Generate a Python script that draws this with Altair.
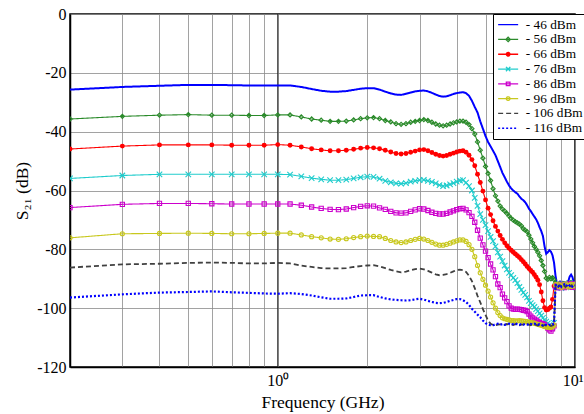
import altair as alt
import pandas as pd

freq = [0.2, 0.3, 0.4, 0.5, 0.6, 0.7, 0.8, 0.9, 1.0,
        1.1, 1.2, 1.3, 1.4, 1.5, 1.6, 1.7, 1.8, 1.9, 2.0,
        2.1, 2.2, 2.3, 2.4, 2.5, 2.6, 2.7, 2.8, 2.9, 3.0,
        3.1, 3.2, 3.3, 3.4, 3.5, 3.6, 3.7, 3.8, 3.9, 4.0,
        4.1, 4.2, 4.3, 4.4, 4.5, 4.6, 4.7, 4.8, 4.9, 5.0,
        5.1, 5.2, 5.3, 5.4, 5.5, 5.6, 5.7, 5.8, 5.9, 6.0,
        6.1, 6.2, 6.3, 6.4, 6.5, 6.6, 6.7, 6.8, 6.9, 7.0,
        7.1, 7.2, 7.3, 7.4, 7.5, 7.6, 7.7, 7.8, 7.9, 8.0,
        8.1, 8.2, 8.3, 8.4, 8.5, 8.6, 8.7, 8.8, 8.9, 9.0,
        9.1, 9.2, 9.3, 9.4, 9.5, 9.6, 9.7, 9.8, 9.9, 10.0]

s46 = [-25.7, -24.8, -24.4, -24.1, -24.1, -24.2, -24.3, -24.3, -24.3,
       -24.3, -24.8, -25.5, -26.1, -26.4, -26.4, -26.2, -25.8, -25.4, -25.2,
       -25.2, -25.7, -26.4, -27.0, -27.4, -27.5, -27.1, -26.7, -26.3, -26.1,
       -26.0, -26.3, -26.8, -27.4, -27.9, -28.1, -28.0, -27.6, -27.2, -26.9,
       -26.7, -26.6, -26.9, -27.8, -29.5, -31.6, -33.5, -36.5, -39.0, -41.5,
       -43.5, -45.0, -46.5, -48.0, -50.0, -52.0, -54.0, -55.5, -57.0, -58.3,
       -59.3, -60.0, -60.6, -61.1, -62.0, -62.8, -63.3, -64.0, -65.0, -66.2,
       -67.0, -68.0, -68.9, -69.8, -71.0, -72.5, -73.8, -75.5, -79.0, -81.5,
       -81.0, -80.3, -80.8, -82.0, -84.5, -89.0, -92.0, -91.5, -91.0, -91.8,
       -91.5, -91.2, -91.5, -91.0, -90.8, -89.2, -88.6, -89.4, -91.0, -91.5]

s56 = [-35.7, -34.8, -34.4, -34.2, -34.4, -34.4, -34.5, -34.5, -34.3,
       -34.3, -35.0, -35.7, -36.1, -36.5, -36.5, -36.4, -36.0, -35.6, -35.3,
       -35.2, -35.6, -36.2, -36.7, -37.3, -37.5, -37.3, -36.8, -36.5, -36.2,
       -35.9, -36.2, -36.8, -37.4, -37.8, -38.0, -37.8, -37.4, -37.0, -36.7,
       -36.4, -36.4, -36.8, -37.6, -39.0, -40.8, -43.5, -46.3, -49.0, -51.8,
       -54.2, -56.6, -59.4, -61.8, -63.6, -65.3, -66.3, -67.0, -67.8, -68.7,
       -69.5, -70.1, -70.6, -71.0, -71.4, -72.0, -73.0, -73.5, -74.0, -75.2,
       -76.5, -77.8, -79.0, -80.0, -81.0, -82.2, -83.8, -85.5, -87.5, -89.8,
       -90.2, -89.5, -90.0, -89.6, -90.3, -91.5, -92.3, -91.8, -92.6, -92.0,
       -91.6, -92.4, -92.0, -91.5, -92.2, -91.8, -91.2, -91.9, -92.3, -91.7]

s66 = [-45.9, -44.9, -44.5, -44.5, -44.5, -44.6, -44.6, -44.6, -44.4,
       -44.6, -45.2, -45.8, -46.2, -46.5, -46.5, -46.3, -46.0, -45.6, -45.4,
       -45.5, -45.8, -46.3, -46.9, -47.4, -47.6, -47.4, -47.0, -46.6, -46.2,
       -46.1, -46.5, -47.1, -47.7, -48.1, -48.3, -48.1, -47.7, -47.3, -46.9,
       -46.6, -46.5, -47.0, -48.0, -49.5, -51.6, -54.5, -57.3, -60.2, -63.2,
       -66.0, -68.2, -70.3, -72.2, -73.8, -75.3, -76.6, -77.8, -78.8, -79.6,
       -80.3, -81.0, -81.6, -82.2, -82.8, -83.5, -84.2, -85.0, -85.8, -86.5,
       -87.2, -87.8, -88.6, -89.5, -90.5, -92.0, -94.5, -97.5, -99.8, -100.6,
       -100.5, -100.0, -99.6, -97.0, -92.5, -92.0, -92.8, -92.2, -93.0, -92.5,
       -92.0, -92.8, -92.4, -91.9, -92.6, -92.1, -91.6, -92.3, -92.7, -92.0]

s76 = [-55.9, -54.9, -54.5, -54.5, -54.5, -54.5, -54.5, -54.5, -54.5,
       -54.6, -55.2, -55.8, -56.2, -56.5, -56.5, -56.3, -55.9, -55.5, -55.3,
       -55.4, -56.0, -56.7, -57.2, -57.6, -57.7, -57.5, -57.0, -56.7, -56.5,
       -56.4, -56.7, -57.1, -57.6, -58.2, -58.5, -58.3, -57.9, -57.5, -57.0,
       -56.6, -56.5, -57.3, -58.5, -60.0, -62.5, -65.2, -68.0, -70.0, -71.8,
       -73.8, -75.8, -77.2, -79.0, -81.0, -82.5, -84.0, -85.5, -86.8, -88.0,
       -88.8, -89.7, -90.5, -91.5, -92.8, -93.8, -94.7, -95.5, -96.3, -97.5,
       -98.3, -99.0, -99.6, -100.3, -101.0, -101.8, -102.5, -103.3, -104.0, -104.6,
       -105.2, -105.8, -106.2, -106.4, -105.0, -92.4, -93.0, -92.0, -92.7, -93.2,
       -92.3, -91.8, -92.6, -92.2, -91.9, -92.5, -92.9, -92.1, -91.6, -92.4]

s86 = [-65.8, -64.7, -64.4, -64.4, -64.5, -64.6, -64.6, -64.6, -64.6,
       -64.6, -65.0, -65.6, -66.1, -66.4, -66.5, -66.3, -65.8, -65.4, -65.2,
       -65.3, -65.9, -66.4, -67.1, -67.6, -67.7, -67.6, -67.1, -66.6, -66.2,
       -66.3, -66.8, -67.4, -67.8, -68.0, -68.0, -67.8, -67.3, -66.9, -66.5,
       -66.2, -66.1, -66.6, -67.5, -68.8, -70.8, -73.5, -76.2, -78.5, -80.6,
       -82.8, -85.0, -87.0, -89.3, -91.8, -93.0, -95.2, -96.5, -97.8, -99.2,
       -100.0, -100.3, -100.4, -100.3, -100.4, -100.5, -100.7, -100.8, -101.2, -102.0,
       -102.7, -103.3, -103.7, -104.1, -104.5, -104.9, -105.2, -105.3, -105.6, -106.2,
       -106.8, -107.4, -107.8, -107.0, -106.0, -92.8, -92.2, -93.1, -92.5, -91.9,
       -92.6, -93.0, -92.2, -92.7, -92.3, -91.8, -92.5, -92.9, -92.2, -91.8]

s96 = [-76.1, -74.7, -74.6, -74.5, -74.6, -74.7, -74.7, -74.6, -74.5,
       -74.5, -75.1, -75.7, -76.1, -76.5, -76.6, -76.4, -76.0, -75.7, -75.5,
       -75.6, -75.7, -76.3, -77.0, -77.5, -77.7, -77.5, -77.0, -76.6, -76.3,
       -76.5, -77.0, -77.6, -78.2, -78.6, -78.6, -78.3, -77.9, -77.5, -77.1,
       -76.8, -76.8, -77.3, -78.4, -80.0, -82.5, -85.5, -88.0, -90.2, -92.2,
       -94.2, -96.2, -98.2, -100.0, -101.5, -102.5, -103.3, -103.6, -103.8, -104.0,
       -104.2, -104.2, -104.3, -104.3, -104.2, -104.3, -104.4, -104.5, -104.6, -104.8,
       -104.8, -105.0, -105.1, -105.3, -105.5, -105.6, -105.8, -106.0, -106.2, -106.4,
       -106.5, -106.6, -106.5, -106.3, -105.8, -92.0, -92.6, -91.8, -92.4, -92.9,
       -92.1, -92.5, -91.7, -92.3, -92.8, -92.2, -91.9, -92.6, -92.0, -92.3]

s106 = [-86.2, -85.1, -84.9, -84.6, -84.5, -84.6, -84.8, -84.8, -84.6,
        -84.8, -85.5, -86.0, -86.4, -86.5, -86.5, -86.4, -86.0, -85.7, -85.5,
        -85.4, -85.8, -86.4, -87.0, -87.5, -87.8, -87.6, -87.1, -86.7, -86.5,
        -86.8, -87.3, -87.9, -88.5, -88.8, -88.7, -88.4, -88.0, -87.5, -87.0,
        -86.9, -87.1, -87.7, -89.0, -90.8, -93.2, -95.8, -98.0, -100.3, -102.3,
        -104.2, -105.3, -105.7, -105.8, -105.6, -105.5, -105.7, -105.6, -105.4, -105.6,
        -105.5, -105.7, -105.4, -105.6, -105.8, -105.5, -105.6, -105.7, -105.5, -105.6,
        -105.8, -105.6, -105.5, -105.7, -105.9, -105.6, -105.8, -106.0, -105.7, -105.9,
        -106.0, -105.8, -106.1, -105.9, -105.6, -92.5, -91.9, -92.7, -92.2, -92.6,
        -92.0, -92.4, -92.8, -92.1, -91.7, -92.3, -92.6, -91.9, -92.2, -92.5]

s116 = [-96.4, -95.3, -94.7, -94.5, -94.3, -94.6, -94.8, -95.0, -95.1,
        -94.9, -95.2, -95.7, -96.3, -96.8, -96.8, -96.7, -96.2, -95.7, -95.6,
        -95.6, -96.2, -96.7, -97.0, -97.2, -97.3, -97.4, -97.3, -97.0, -96.8,
        -97.1, -97.5, -97.9, -98.2, -98.3, -98.2, -97.9, -97.5, -97.2, -96.9,
        -96.9, -97.3, -97.9, -98.9, -100.2, -101.2, -102.2, -103.1, -104.2, -105.1,
        -105.6, -105.8, -105.8, -105.5, -105.3, -105.6, -105.4, -105.7, -105.5, -105.3,
        -105.6, -105.4, -105.2, -105.5, -105.7, -105.4, -105.6, -105.3, -105.5, -105.8,
        -105.4, -105.6, -105.3, -105.5, -105.7, -105.4, -105.6, -105.9, -105.5, -105.7,
        -105.9, -105.6, -105.8, -105.5, -105.2, -92.3, -91.8, -92.5, -92.0, -92.7,
        -92.2, -91.9, -92.6, -92.3, -91.8, -92.4, -92.1, -92.6, -92.0, -92.2]

series_names = ["- 46 dBm", "- 56 dBm", "- 66 dBm", "- 76 dBm",
                "- 86 dBm", "- 96 dBm", "- 106 dBm", "- 116 dBm"]
series_values = [s46, s56, s66, s76, s86, s96, s106, s116]

x_grid = [0.3, 0.4, 0.5, 0.6, 0.7, 0.8, 0.9, 1, 2, 3, 4, 5, 6, 7, 8, 9, 10]
y_ticks = [-120, -100, -80, -60, -40, -20, 0]
major_grid = [1.0]

# styles
colors = ["#0000ff", "#2a8a2a", "#ff0000", "#1fcccc",
          "#cc00cc", "#c8c81e", "#404040", "#0000ff"]
dashes = [[1, 0], [1, 0], [1, 0], [1, 0], [1, 0], [1, 0], [5, 3], [2, 2]]
widths = [2.0, 1.1, 1.1, 1.1, 1.1, 1.1, 1.8, 2.2]
X_PATH = "M-1,-1L1,1M-1,1L1,-1"
markers = [None,
           dict(shape="diamond", filled=False, size=18, strokeWidth=1.1),
           dict(shape="circle", filled=True, size=24),
           dict(shape=X_PATH, filled=False, size=30, strokeWidth=1.1),
           dict(shape="square", filled=False, size=18, strokeWidth=1.1),
           dict(shape="circle", filled=False, size=17, strokeWidth=1.1),
           None, None]

# legend symbols: unit = sqrt(121)/2 = 5.5 px
LINE = "M-1.82,0L1.82,0"
circ = "M-0.33,0A0.33,0.33 0 1,0 0.33,0A0.33,0.33 0 1,0 -0.33,0"
dot = "M-0.15,0A0.15,0.15 0 1,0 0.15,0A0.15,0.15 0 1,0 -0.15,0"
legend_paths = [
    LINE,
    LINE + "M0,-0.4L0.4,0L0,0.4L-0.4,0Z",
    LINE + circ + dot,
    LINE + "M-0.4,-0.4L0.4,0.4M-0.4,0.4L0.4,-0.4",
    LINE + "M-0.33,-0.33L0.33,-0.33L0.33,0.33L-0.33,0.33Z",
    LINE + circ,
    LINE,
    LINE,
]

rows = []
for name, vals in zip(series_names, series_values):
    for f, v in zip(freq, vals):
        rows.append({"f": f, "s21": v, "series": name})
df = pd.DataFrame(rows)

FONT = "Liberation Serif"

x_enc = alt.X("f:Q",
              scale=alt.Scale(type="log", domain=[0.2, 10], nice=False),
              axis=alt.Axis(values=x_grid,
                            labelExpr="datum.value == 1 ? '10⁰' : (datum.value == 10 ? '10¹' : '')",
                            title="Frequency (GHz)", grid=True, ticks=False,
                            labelFlush=True, labelFlushOffset=8, labelOverlap=False,
                            labelPadding=5, titlePadding=5))
y_enc = alt.Y("s21:Q",
              scale=alt.Scale(domain=[-120, 0], nice=False),
              axis=alt.Axis(values=y_ticks, title="S₂₁ (dB)", grid=True,
                            labelExpr="'' + datum.value",
                            ticks=False, labelPadding=4, titlePadding=5))

base = alt.Chart(df)
layers = []

major = alt.Chart(pd.DataFrame({"f": major_grid})).mark_rule(
    color="#222222", strokeWidth=1).encode(x=alt.X("f:Q"))
layers.append(major)

for i, name in enumerate(series_names):
    sub = base.transform_filter(alt.datum.series == name)
    layers.append(sub.mark_line(color=colors[i], strokeWidth=widths[i],
                                strokeDash=dashes[i], clip=True)
                  .encode(x=x_enc, y=y_enc, order="f:Q"))
    if markers[i] is not None:
        m = markers[i]
        kw = dict(shape=m["shape"], filled=m["filled"], size=m["size"],
                  color=colors[i], opacity=1, clip=True)
        if "strokeWidth" in m:
            kw["strokeWidth"] = m["strokeWidth"]
        layers.append(sub.mark_point(**kw).encode(x=x_enc, y=y_enc))

leg = alt.Legend(title=None, orient="none", legendX=423, legendY=0,
                 labelFont=FONT, labelFontSize=13.3, labelColor="black",
                 symbolSize=121, symbolStrokeWidth=1.3, symbolFillColor="transparent",
                 strokeColor="black", fillColor="white", padding=4,
                 rowPadding=0.8, labelOffset=11, symbolOffset=4.5)
legend_layer = base.transform_filter("datum.f < 0").mark_point(
    filled=False, opacity=1, strokeWidth=1.3).encode(
    x=x_enc, y=y_enc,
    color=alt.Color("series:N", scale=alt.Scale(domain=series_names, range=colors), legend=leg),
    shape=alt.Shape("series:N", scale=alt.Scale(domain=series_names, range=legend_paths), legend=leg),
    strokeDash=alt.StrokeDash("series:N", scale=alt.Scale(domain=series_names, range=dashes), legend=leg),
)
layers.append(legend_layer)

chart = alt.layer(*layers).properties(
    width=505, height=353,
    autosize=alt.AutoSizeParams(type="none"),
    padding={"left": 70, "top": 14, "right": 9, "bottom": 47},
    background="white",
).configure_view(stroke="black", strokeWidth=1.5).configure_axis(
    labelFont=FONT, titleFont=FONT, labelFontSize=16, titleFontSize=17.5,
    labelColor="black", titleColor="black", titleFontWeight="normal",
    domainColor="black", domainWidth=1.5, gridColor="#8a8a8a", gridWidth=0.8,
)

chart.save("out.html", embed_options={"renderer": "svg", "actions": False})
